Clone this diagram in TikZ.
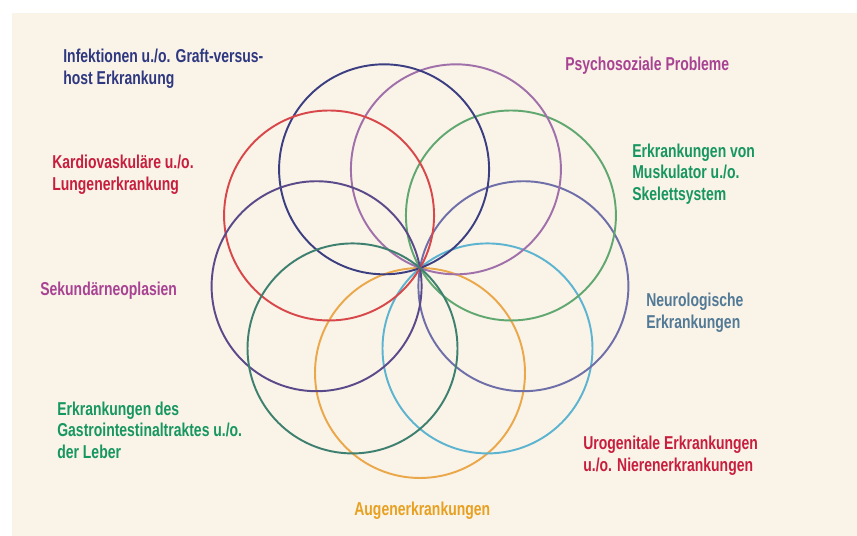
\documentclass[tikz,border=0pt]{standalone}
\usepackage{fontspec}
\usepackage{tikz}
\usetikzlibrary{
    positioning,
    calc
}
\newfontfamily\labelfont{Liberation Sans}[FakeStretch=0.75]

% --- Colours ---
\definecolor{paper}{RGB}{250,243,232}
\definecolor{infnavy}{RGB}{46,56,128}
\definecolor{psymagenta}{RGB}{168,66,146}
\definecolor{muskgreen}{RGB}{22,150,96}
\definecolor{neurosteel}{RGB}{82,122,150}
\definecolor{urocrimson}{RGB}{200,30,62}
\definecolor{augenorange}{RGB}{232,160,32}
% ring colours
\definecolor{ringnavy}{RGB}{60,62,130}
\definecolor{ringlilac}{RGB}{160,112,170}
\definecolor{ringgreen}{RGB}{96,168,112}
\definecolor{ringviolet}{RGB}{110,110,168}
\definecolor{ringcyan}{RGB}{92,180,208}
\definecolor{ringorange}{RGB}{234,168,74}
\definecolor{ringteal}{RGB}{62,128,112}
\definecolor{ringplum}{RGB}{90,74,138}
\definecolor{ringred}{RGB}{216,72,74}

\tikzset{
    % --- Outline circle of the rosette ---
    ring/.style = {
        draw=#1, line width=1.1pt
    },
    % --- Disease group label ---
    group/.style = {
        anchor=west, inner sep=0pt, align=left,
        font=\labelfont\bfseries\fontsize{10.6}{12.3}\selectfont,
        text=#1
    }
}

\begin{document}
\begin{tikzpicture}

% ---------------------------------------------------------
% Page and paper background
% ---------------------------------------------------------
\useasboundingbox (0,0) rectangle (17.14,10.72);
\fill[white] (0,0) rectangle (17.14,10.72);
\fill[paper] (0.24,0) rectangle (17.14,10.46);

% ---------------------------------------------------------
% Rosette: nine circles through one hub, 40 deg apart
% ---------------------------------------------------------
\def\R{2.1}
\coordinate (Hub) at (8.40,5.36);

\draw[ring=ringorange] (Hub) ++(-90:\R) circle[radius=\R];
\draw[ring=ringcyan]   (Hub) ++(-50:\R) circle[radius=\R];
\draw[ring=ringviolet] (Hub) ++(-10:\R) circle[radius=\R];
\draw[ring=ringgreen]  (Hub) ++(30:\R)  circle[radius=\R];
\draw[ring=ringlilac]  (Hub) ++(70:\R)  circle[radius=\R];
\draw[ring=ringnavy]   (Hub) ++(110:\R) circle[radius=\R];
\draw[ring=ringred]    (Hub) ++(150:\R) circle[radius=\R];
\draw[ring=ringplum]   (Hub) ++(190:\R) circle[radius=\R];
\draw[ring=ringteal]   (Hub) ++(230:\R) circle[radius=\R];

% ---------------------------------------------------------
% Labels
% ---------------------------------------------------------
\node[group=infnavy] (Inf) at (1.26,9.34)
    {Infektionen u./o. Graft-versus-\\host Erkrankung};
\node[group=psymagenta] (Psy) at (11.30,9.40)
    {Psychosoziale Probleme};
\node[group=muskgreen] (Musk) at (12.64,7.24)
    {Erkrankungen von\\Muskulator u./o.\\Skelettsystem};
\node[group=neurosteel] (Neuro) at (12.92,4.46)
    {Neurologische\\Erkrankungen};
\node[group=urocrimson] (Uro) at (11.66,1.61)
    {Urogenitale Erkrankungen\\u./o. Nierenerkrankungen};
\node[group=augenorange] (Augen) at (7.08,0.50)
    {Augenerkrankungen};
\node[group=muskgreen] (Gastro) at (1.14,2.12)
    {Erkrankungen des\\Gastrointestinaltraktes u./o.\\der Leber};
\node[group=psymagenta] (Sek) at (0.80,4.90)
    {Sekundärneoplasien};
\node[group=urocrimson] (Kardio) at (1.04,7.23)
    {Kardiovaskuläre u./o.\\Lungenerkrankung};

\end{tikzpicture}
\end{document}
